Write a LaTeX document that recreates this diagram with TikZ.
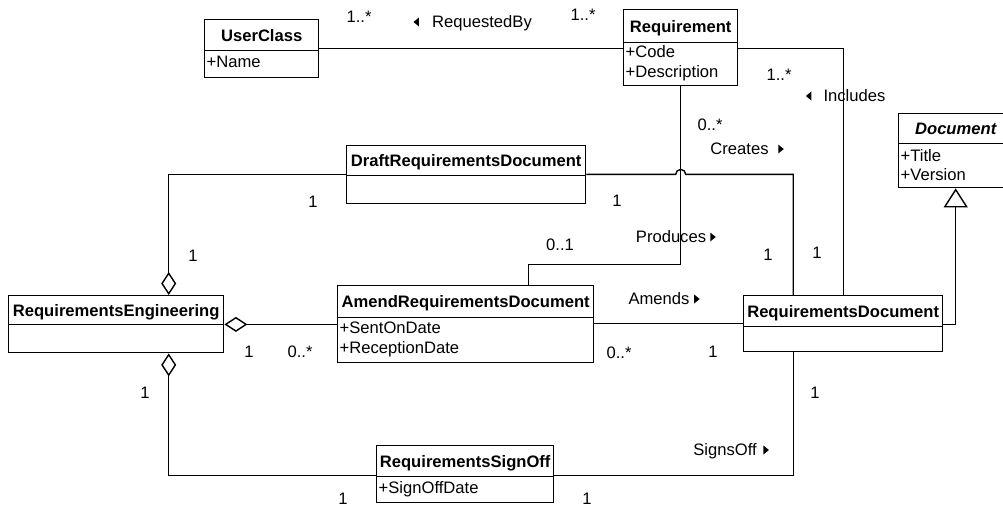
\documentclass[tikz,border=0pt]{standalone}
\usepackage{fontspec}
\setmainfont{Liberation Sans}
\usetikzlibrary{arrows.meta,calc}
\begin{document}
\begin{tikzpicture}[x=1pt,y=-1pt,line width=1.4pt,
  every node/.style={font=\fontsize{16.6}{20}\selectfont, inner sep=0pt, text height=11.9pt, text depth=0pt},
  hdr/.style={draw, anchor=north west, font=\fontsize{16.6}{20}\selectfont\bfseries},
  bdy/.style={draw, anchor=north west},
  attr/.style={anchor=west},
  lbl/.style={},
  aggend/.style={-{Diamond[open,length=23pt,width=15pt]}},
  aggstart/.style={{Diamond[open,length=23pt,width=15pt]}-},
  genend/.style={-{Triangle[open,length=19pt,width=24pt]}},
  rtri/.pic={\fill (0,-4.5) -- (5.5,0) -- (0,4.5) -- cycle;},
  ltri/.pic={\fill (0,0) -- (5.5,-4.5) -- (5.5,4.5) -- cycle;}
]
\useasboundingbox (0,0) rectangle (1003,508);

% UserClass
\node[hdr, minimum width=114pt, minimum height=31pt] (uc-h) at (204,19) {UserClass};
\node[bdy, minimum width=114pt, minimum height=27pt] (uc-b) at (204,50) {};
\node[attr] (uc-a1) at (206,62) {+Name};

% Requirement
\node[hdr, minimum width=114pt, minimum height=33pt] (req-h) at (623,9) {Requirement};
\node[bdy, minimum width=114pt, minimum height=43pt] (req-b) at (623,42) {};
\node[attr] (req-a1) at (625,52) {+Code};
\node[attr] (req-a2) at (625,72) {+Description};

% Document
\node[hdr, font=\fontsize{16.6}{20}\selectfont\bfseries\itshape, minimum width=114pt, minimum height=30pt] (doc-h) at (898,113) {Document};
\node[bdy, minimum width=114pt, minimum height=44pt] (doc-b) at (898,143) {};
\node[attr] (doc-a1) at (900,156) {+Title};
\node[attr] (doc-a2) at (900,175) {+Version};

% DraftRequirementsDocument
\node[hdr, minimum width=239pt, minimum height=30pt] (draft-h) at (346,145) {DraftRequirementsDocument};
\node[bdy, minimum width=239pt, minimum height=28pt] (draft-b) at (346,175) {};

% RequirementsEngineering
\node[hdr, minimum width=215pt, minimum height=29pt] (re-h) at (8,295) {RequirementsEngineering};
\node[bdy, minimum width=215pt, minimum height=28pt] (re-b) at (8,324) {};

% AmendRequirementsDocument
\node[hdr, minimum width=256pt, minimum height=32pt] (amend-h) at (337,285) {AmendRequirementsDocument};
\node[bdy, minimum width=256pt, minimum height=45pt] (amend-b) at (337,317) {};
\node[attr] (amend-a1) at (339,328) {+SentOnDate};
\node[attr] (amend-a2) at (339,348) {+ReceptionDate};

% RequirementsDocument
\node[hdr, minimum width=199pt, minimum height=31pt] (rd-h) at (743,295) {RequirementsDocument};
\node[bdy, minimum width=199pt, minimum height=25pt] (rd-b) at (743,326) {};

% RequirementsSignOff
\node[hdr, minimum width=177pt, minimum height=31pt] (so-h) at (376,445) {RequirementsSignOff};
\node[bdy, minimum width=177pt, minimum height=26pt] (so-b) at (376,476) {};
\node[attr] (so-a1) at (378,488) {+SignOffDate};

% Connectors
\draw ([yshift=3pt]uc-h.south east) coordinate (rq0) -- (rq0 -| req-h.west);
\draw (req-b.east |- rq0) -| (rd-h.north);
\draw ([yshift=2pt]draft-h.south east) coordinate (cr0) -- ($(cr0 -| req-b.south)+(-5,0)$)
  arc[start angle=180, end angle=0, radius=5pt] -| ([xshift=-50pt]rd-h.north);
\draw (req-b.south) -- ++(0,178) -| ([xshift=63pt]amend-h.north);
\draw[aggend] ([yshift=2pt]draft-h.south west) -| ([xshift=52.5pt]re-h.north);
\draw[aggstart] ([yshift=1pt]re-h.south east) coordinate (am0) -- (am0 -| amend-b.west);
\draw ([yshift=-5pt]amend-h.south east) coordinate (ad0) -- (ad0 -| rd-h.west);
\draw[aggstart] ([xshift=52.5pt]re-b.south) |- ([yshift=2pt]so-h.south west);
\draw ([yshift=2pt]so-h.south east) -| ([xshift=-50pt]rd-b.south);
\draw[genend] ([yshift=3pt]rd-h.south east) -| (doc-b.south);

% Labels
\node[lbl] (l1) at (359,17) {1..*};
\node[lbl] (l2) at (583,15) {1..*};
\node[lbl] (l3) at (482,22) {RequestedBy};
\pic at ([xshift=-18pt]l3.west) {ltri};
\node[lbl] (l4) at (779,75) {1..*};
\node[lbl] (l5) at (854.5,96) {Includes};
\pic at ([xshift=-17pt]l5.west) {ltri};
\node[lbl] (l6) at (710,125) {0..*};
\node[lbl] (l7) at (739.5,149) {Creates};
\pic at ([xshift=9pt]l7.east) {rtri};
\node[lbl] (l8) at (617,201) {1};
\node[lbl] (l9) at (768,255) {1};
\node[lbl] (l10) at (817,253) {1};
\node[lbl] (l11) at (560,245) {0..1};
\node[lbl] (l12) at (671,237) {Produces};
\pic at ([xshift=3.5pt]l12.east) {rtri};
\node[lbl] (l13) at (313,202) {1};
\node[lbl] (l14) at (193,256) {1};
\node[lbl] (l15) at (249,352) {1};
\node[lbl] (l16) at (300,352) {0..*};
\node[lbl] (l17) at (659,299) {Amends};
\pic at ([xshift=4pt]l17.east) {rtri};
\node[lbl] (l18) at (619,353) {0..*};
\node[lbl] (l19) at (713,352) {1};
\node[lbl] (l20) at (145,393) {1};
\node[lbl] (l21) at (343,499) {1};
\node[lbl] (l22) at (725,450) {SignsOff};
\pic at ([xshift=6pt]l22.east) {rtri};
\node[lbl] (l23) at (587,499) {1};
\node[lbl] (l24) at (815,393) {1};
\end{tikzpicture}
\end{document}
